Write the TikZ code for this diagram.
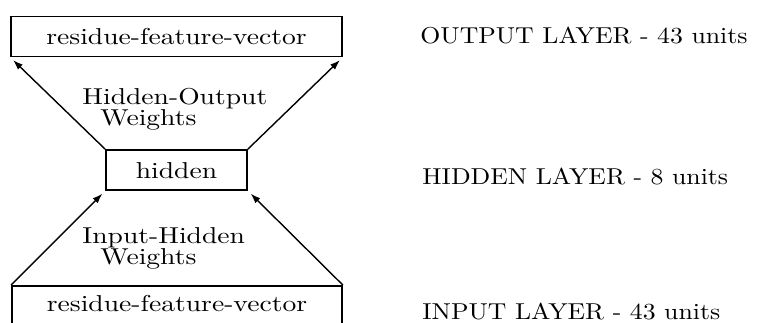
\documentclass[tikz,border=0pt]{standalone}
\usepackage{fontspec}
\setmainfont{lmroman10-regular.otf}[FakeStretch=1.2]
\newfontfamily\sidefont{lmroman10-regular.otf}[FakeStretch=1.12]
\usetikzlibrary{arrows.meta}

\tikzset{
  layerbox/.style={draw, line width=0.8pt, text height=8pt, text depth=0pt,
                   inner ysep=6pt, inner xsep=0pt},
  weights/.style={line width=0.7pt, -{Latex[length=5pt,width=3.5pt]}, shorten >=2pt},
  wlabel/.style={anchor=north west, inner sep=0pt, align=left},
  sidelabel/.style={anchor=base west, inner sep=0pt, font=\sidefont\fontsize{11.5}{10.5}\selectfont}
}

\begin{document}
\begin{tikzpicture}[x=0.5pt,y=-0.5pt, font=\fontsize{11.5}{10.5}\selectfont]
\useasboundingbox (0,0) rectangle (764,322);
\clip (0,0) rectangle (764,322);

% layers
\node[layerbox, minimum width=165.5pt] (out) at (176.5,36.5) {residue-feature-vector};
\node[layerbox, minimum width=70.5pt]  (hid) at (176.5,170) {hidden};
\node[layerbox, minimum width=165pt, anchor=north, inner ysep=5pt, text depth=14pt]
      (inp) at (177,285) {residue-feature-vector};

% weights
\draw[weights] (hid.north west) -- (out.south west);
\draw[weights] (hid.north east) -- (out.south east);
\draw[weights] (inp.north west) -- (hid.south west);
\draw[weights] (inp.north east) -- (hid.south east);

\node[wlabel] (howts) at (82,88)  {Hidden-Output\\\hspace*{9pt}Weights};
\node[wlabel] (ihwts) at (82,227) {Input-Hidden\\\hspace*{9pt}Weights};

% layer sizes
\node[sidelabel] (outlbl) at (420,43)  {OUTPUT LAYER - 43 units};
\node[sidelabel] (hidlbl) at (422,184) {HIDDEN LAYER - 8 units};
\node[sidelabel] (inplbl) at (422,319) {INPUT LAYER - 43 units};
\end{tikzpicture}
\end{document}
